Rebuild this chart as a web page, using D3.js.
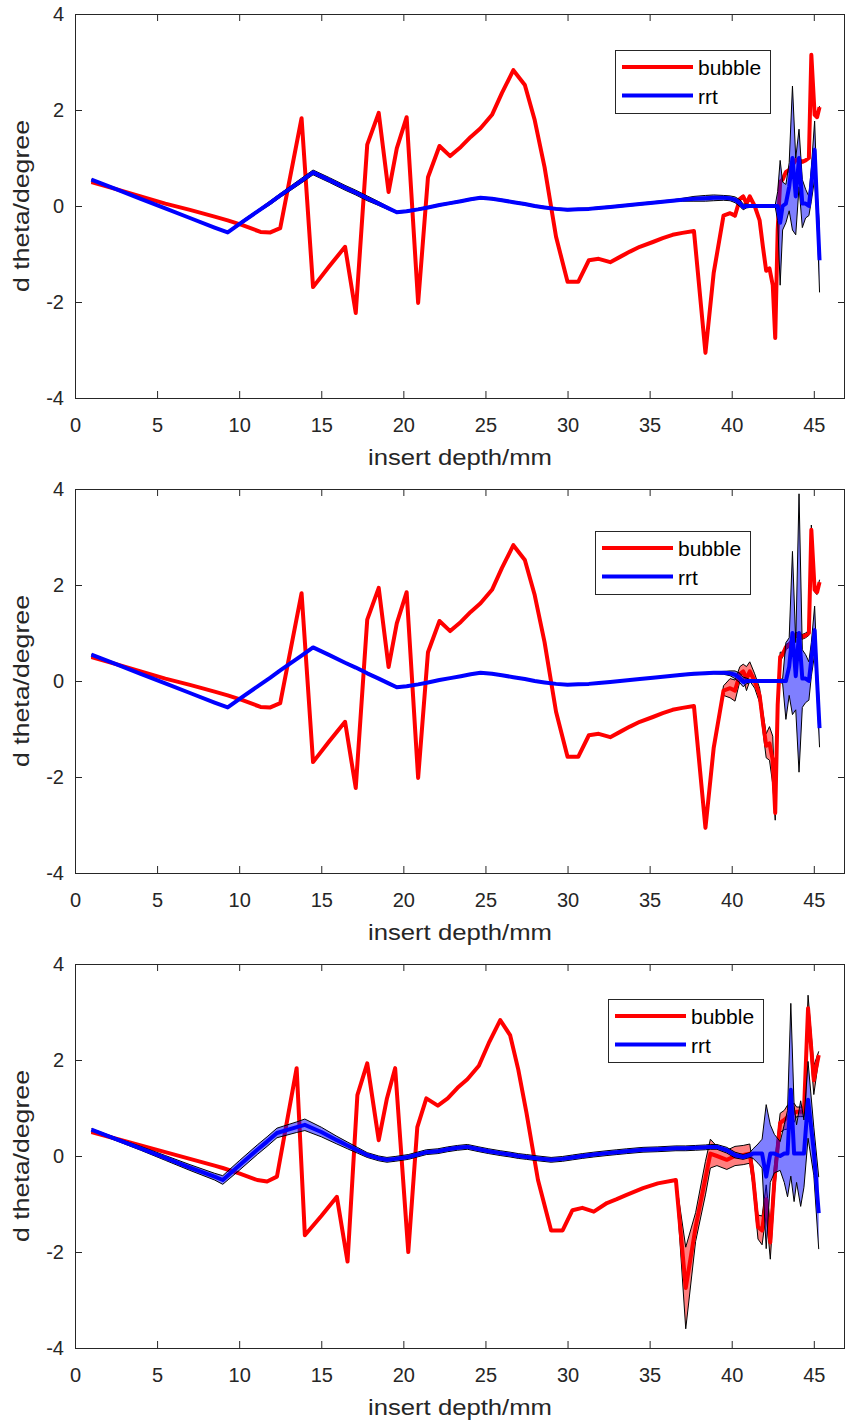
<!DOCTYPE html>
<html>
<head>
<meta charset="utf-8">
<script src="https://cdnjs.cloudflare.com/ajax/libs/d3/7.8.5/d3.min.js"></script>
<style>
body { margin: 0; background: #fff; }
svg { display: block; font-family: 'Liberation Sans', Arial, sans-serif; }
</style>
</head>
<body>
<svg width="846" height="1422"></svg>
<script>
'use strict';

// insert depth (mm), top and middle panels
var xA = [1.0, 2.5, 4.0, 5.5, 7.0, 8.5, 9.3, 10.2, 11.3, 11.9,
    12.5, 13.8, 14.5, 15.5, 16.45, 17.1, 17.8, 18.5, 19.1, 19.6,
    20.2, 20.9, 21.5, 22.2, 22.85, 23.5, 24.1, 24.7, 25.4, 26.0,
    26.7, 27.4, 28.0, 28.6, 29.3, 30.0, 30.65, 31.3, 31.9, 32.6,
    33.2, 33.8, 34.4, 35.2, 35.8, 36.4, 37.0, 37.7, 38.4, 38.9,
    39.5, 39.9, 40.2, 40.5, 40.7, 40.9, 41.1, 41.4, 41.7, 41.9,
    42.1, 42.3, 42.5, 42.65, 42.8, 42.95, 43.1, 43.3, 43.5, 43.7,
    43.9, 44.1, 44.3, 44.5, 44.7, 44.85, 45.05, 45.2, 45.35];

var redA = [0.5, 0.35, 0.2, 0.05, -0.08, -0.22, -0.3, -0.4, -0.54, -0.55,
    -0.46, 1.83, -1.69, -1.25, -0.85, -2.23, 1.28, 1.94, 0.29, 1.2,
    1.85, -2.02, 0.6, 1.25, 1.04, 1.23, 1.44, 1.62, 1.9, 2.35,
    2.83, 2.52, 1.79, 0.81, -0.64, -1.58, -1.58, -1.13, -1.1, -1.17,
    -1.06, -0.95, -0.85, -0.75, -0.67, -0.6, -0.56, -0.52, -3.06, -1.4,
    -0.2, -0.15, -0.2, 0.15, 0.2, 0.05, 0.2, 0.0, -0.3, -0.85,
    -1.35, -1.3, -1.65, -2.75, -0.5, 0.5, 0.55, 0.71, 0.75, 0.85,
    0.96, 0.95, 0.92, 0.95, 1.0, 3.15, 1.9, 1.85, 2.06];

var blueTop = [0.55, 0.35, 0.15, -0.05, -0.25, -0.45, -0.55, -0.33, -0.07, 0.07,
    0.22, 0.53, 0.7, 0.54, 0.38, 0.28, 0.16, 0.05, -0.05, -0.13,
    -0.11, -0.07, -0.03, 0.02, 0.06, 0.1, 0.14, 0.17, 0.15, 0.12,
    0.08, 0.04, 0.0, -0.03, -0.06, -0.08, -0.07, -0.06, -0.04, -0.02,
    0.0, 0.02, 0.04, 0.07, 0.09, 0.11, 0.13, 0.15, 0.16, 0.17,
    0.17, 0.16, 0.13, 0.06, -0.02, 0.0, 0.0, 0.0, 0.0, 0.0,
    0.0, 0.0, 0.0, 0.0, 0.0, -0.35, 0.0, 0.05, 0.4, 1.0,
    0.2, 1.0, 0.05, 0.05, 0.0, 0.45, 1.17, 0.0, -1.13];

var blueMid = [0.55, 0.35, 0.15, -0.05, -0.25, -0.45, -0.55, -0.33, -0.07, 0.07,
    0.22, 0.53, 0.7, 0.54, 0.38, 0.28, 0.16, 0.05, -0.05, -0.13,
    -0.11, -0.07, -0.03, 0.02, 0.06, 0.1, 0.14, 0.17, 0.15, 0.12,
    0.08, 0.04, 0.0, -0.03, -0.06, -0.08, -0.07, -0.06, -0.04, -0.02,
    0.0, 0.02, 0.04, 0.07, 0.09, 0.11, 0.13, 0.15, 0.16, 0.17,
    0.17, 0.16, 0.13, 0.06, -0.02, 0.0, 0.0, 0.0, 0.0, 0.0,
    0.0, 0.0, 0.0, 0.0, 0.0, 0.0, 0.0, 0.0, 0.3, 1.0,
    0.1, 1.0, 0.05, 0.05, 0.0, 0.45, 1.06, 0.0, -0.98];

// band half widths
var errRedTop = [0, 0, 0, 0, 0, 0, 0, 0, 0, 0,
    0, 0, 0, 0, 0, 0, 0, 0, 0, 0,
    0, 0, 0, 0, 0, 0, 0, 0, 0, 0,
    0, 0, 0, 0, 0, 0, 0, 0, 0, 0,
    0, 0, 0, 0, 0, 0, 0, 0, 0, 0,
    0.02, 0.02, 0.03, 0.03, 0.03, 0.03, 0.03, 0.02, 0.02, 0.02,
    0.02, 0.02, 0.02, 0.02, 0.02, 0.02, 0.02, 0.02, 0.02, 0.02,
    0.02, 0.02, 0.02, 0.02, 0.02, 0.02, 0.02, 0.02, 0.02];

var errBlueTop = [0.01, 0.01, 0.01, 0.01, 0.01, 0.01, 0.02, 0.03, 0.03, 0.04,
    0.04, 0.05, 0.05, 0.05, 0.05, 0.05, 0.05, 0.04, 0.03, 0.02,
    0.02, 0.02, 0.02, 0.02, 0.02, 0.02, 0.02, 0.02, 0.02, 0.02,
    0.02, 0.02, 0.02, 0.02, 0.02, 0.02, 0.02, 0.02, 0.02, 0.02,
    0.02, 0.02, 0.02, 0.02, 0.02, 0.02, 0.03, 0.05, 0.06, 0.06,
    0.05, 0.05, 0.06, 0.07, 0.06, 0.04, 0.03, 0.02, 0.02, 0.02,
    0.02, 0.02, 0.02, 0.02, 0.3, 1.3, 0.5, 0.4, 0.5, 1.5,
    0.8, 0.6, 0.5, 0.3, 0.2, 0.35, 0.6, 0.3, 0.67];

var errRedMid = [0.01, 0.01, 0.01, 0.01, 0.01, 0.01, 0.01, 0.01, 0.01, 0.01,
    0.01, 0.01, 0.01, 0.01, 0.01, 0.01, 0.01, 0.01, 0.01, 0.01,
    0.01, 0.01, 0.01, 0.01, 0.01, 0.01, 0.01, 0.01, 0.01, 0.01,
    0.01, 0.01, 0.01, 0.01, 0.01, 0.01, 0.01, 0.01, 0.01, 0.01,
    0.01, 0.01, 0.01, 0.01, 0.01, 0.01, 0.01, 0.01, 0.02, 0.03,
    0.1, 0.2, 0.22, 0.15, 0.15, 0.25, 0.2, 0.15, 0.15, 0.2,
    0.25, 0.35, 0.5, 0.15, 0.2, 0.1, 0.05, 0.05, 0.05, 0.05,
    0.05, 0.05, 0.05, 0.05, 0.05, 0.1, 0.05, 0.05, 0.05];

var errBlueMid = [0.01, 0.01, 0.01, 0.01, 0.01, 0.01, 0.01, 0.02, 0.02, 0.02,
    0.02, 0.02, 0.02, 0.02, 0.02, 0.02, 0.02, 0.02, 0.02, 0.02,
    0.01, 0.01, 0.01, 0.01, 0.01, 0.01, 0.01, 0.01, 0.01, 0.01,
    0.01, 0.01, 0.01, 0.01, 0.01, 0.01, 0.01, 0.01, 0.01, 0.01,
    0.01, 0.01, 0.01, 0.01, 0.01, 0.01, 0.02, 0.02, 0.02, 0.02,
    0.03, 0.05, 0.08, 0.1, 0.1, 0.06, 0.03, 0.02, 0.02, 0.02,
    0.02, 0.02, 0.02, 0.02, 0.02, 0.03, 0.05, 0.8, 0.6, 1.7,
    0.7, 2.9, 0.6, 0.5, 0.4, 0.35, 0.5, 0.3, 0.4];

// insert depth (mm), bottom panel
var xB = [1.0, 2.5, 4.0, 5.5, 7.0, 8.5, 9.0, 10.0, 11.1, 11.7,
    12.3, 13.5, 14.0, 15.0, 15.95, 16.6, 17.2, 17.8, 18.5, 19.0,
    19.5, 20.3, 20.85, 21.4, 22.1, 22.7, 23.3, 23.9, 24.6, 25.2,
    25.9, 26.5, 27.0, 27.5, 28.2, 29.0, 29.7, 30.3, 30.9, 31.6,
    32.4, 33.0, 33.6, 34.6, 35.5, 36.6, 37.2, 37.8, 38.4, 38.7,
    39.1, 39.7, 40.2, 40.7, 41.1, 41.3, 41.6, 41.85, 42.1, 42.35,
    42.6, 42.95, 43.2, 43.4, 43.6, 43.8, 43.95, 44.2, 44.4, 44.65,
    45.0, 45.3];

var redB = [0.5, 0.36, 0.22, 0.08, -0.06, -0.2, -0.25, -0.36, -0.5, -0.53,
    -0.43, 1.83, -1.65, -1.25, -0.85, -2.2, 1.27, 1.93, 0.33, 1.2,
    1.83, -2.0, 0.6, 1.2, 1.05, 1.2, 1.42, 1.6, 1.88, 2.35,
    2.83, 2.52, 1.8, 0.9, -0.5, -1.55, -1.55, -1.13, -1.08, -1.16,
    -0.98, -0.9, -0.81, -0.67, -0.57, -0.5, -2.75, -1.48, -0.46, 0.05,
    0.0, -0.08, 0.0, 0.02, 0.05, -0.43, -1.48, -1.55, -0.9, -1.8,
    -0.5, 0.69, 0.75, 0.81, 0.85, 0.9, 0.92, 0.92, 0.92, 3.08,
    1.58, 2.1];

var blueB = [0.55, 0.35, 0.16, -0.04, -0.24, -0.43, -0.5, -0.2, 0.13, 0.3,
    0.48, 0.6, 0.65, 0.5, 0.33, 0.22, 0.12, 0.02, -0.05, -0.08,
    -0.06, -0.02, 0.03, 0.08, 0.1, 0.14, 0.17, 0.19, 0.14, 0.1,
    0.06, 0.03, 0.0, -0.02, -0.05, -0.08, -0.06, -0.03, 0.0, 0.03,
    0.06, 0.08, 0.1, 0.13, 0.14, 0.16, 0.16, 0.17, 0.18, 0.19,
    0.19, 0.12, 0.02, -0.02, 0.02, 0.05, 0.05, 0.05, -0.43, 0.05,
    0.05, 0.0, 0.05, 0.05, 1.38, 0.05, 0.05, 0.05, 0.05, 1.17,
    0.1, -1.19];

var errRedBot = [0.01, 0.01, 0.01, 0.01, 0.01, 0.01, 0.01, 0.01, 0.01, 0.01,
    0.01, 0.01, 0.01, 0.01, 0.01, 0.01, 0.01, 0.01, 0.01, 0.01,
    0.01, 0.01, 0.01, 0.01, 0.01, 0.01, 0.01, 0.01, 0.01, 0.01,
    0.01, 0.01, 0.01, 0.01, 0.01, 0.01, 0.01, 0.01, 0.01, 0.01,
    0.01, 0.01, 0.01, 0.01, 0.01, 0.02, 0.85, 0.3, 0.35, 0.3,
    0.2, 0.2, 0.2, 0.2, 0.2, 0.2, 0.25, 0.3, 0.3, 0.35,
    0.3, 0.2, 0.2, 0.25, 0.2, 0.2, 0.1, 0.1, 0.1, 0.27,
    0.3, 0.08];

var errBlueBot = [0.02, 0.03, 0.04, 0.05, 0.06, 0.07, 0.09, 0.1, 0.1, 0.1,
    0.1, 0.11, 0.12, 0.1, 0.08, 0.07, 0.06, 0.05, 0.05, 0.05,
    0.05, 0.05, 0.05, 0.05, 0.05, 0.05, 0.05, 0.05, 0.05, 0.05,
    0.05, 0.05, 0.05, 0.05, 0.05, 0.05, 0.05, 0.05, 0.05, 0.05,
    0.05, 0.05, 0.05, 0.05, 0.05, 0.05, 0.05, 0.05, 0.05, 0.05,
    0.05, 0.06, 0.06, 0.05, 0.05, 0.1, 0.2, 0.3, 1.5, 0.6,
    0.4, 0.3, 0.6, 0.9, 1.8, 1.0, 0.6, 1.1, 0.7, 0.8,
    0.5, 0.75];

var xTicks = [0, 5, 10, 15, 20, 25, 30, 35, 40, 45];
var yTicks = [-4, -2, 0, 2, 4];
var legendNames = ['bubble', 'rrt'];
var xTitle = 'insert depth/mm';
var yTitle = 'd theta/degree';

var panels = [
    {top: 14, xs: xA, red: redA, blue: blueTop, eRed: errRedTop, eBlue: errBlueTop, lx: 615, ly: 50},
    {top: 489, xs: xA, red: redA, blue: blueMid, eRed: errRedMid, eBlue: errBlueMid, lx: 595, ly: 531},
    {top: 964, xs: xB, red: redB, blue: blueB, eRed: errRedBot, eBlue: errBlueBot, lx: 608, ly: 999}
];

var axisColor = '#262626';
var svg = d3.select('svg');

var x = d3.scaleLinear().domain([0, 46.9]).range([75, 845]);

// plain hyphen for negatives, like the original
function plain(d) {
    return String(d);
}

function drawSeries(g, y, xs, ys, err, color, opacity) {
    var pts = xs.map(function (d, i) {
        return {x: d, y: ys[i], e: err[i]};
    });
    var area = d3.area()
        .x(function (d) { return x(d.x); })
        .y0(function (d) { return y(d.y - d.e); })
        .y1(function (d) { return y(d.y + d.e); });
    var upper = d3.line()
        .x(function (d) { return x(d.x); })
        .y(function (d) { return y(d.y + d.e); });
    var lower = d3.line()
        .x(function (d) { return x(d.x); })
        .y(function (d) { return y(d.y - d.e); });
    var mean = d3.line()
        .x(function (d) { return x(d.x); })
        .y(function (d) { return y(d.y); });

    g.append('path').datum(pts)
        .attr('d', area)
        .attr('fill', color)
        .attr('fill-opacity', opacity);
    [upper, lower].forEach(function (l) {
        g.append('path').datum(pts)
            .attr('d', l)
            .attr('fill', 'none')
            .attr('stroke', '#000')
            .attr('stroke-width', 1);
    });
    g.append('path').datum(pts)
        .attr('d', mean)
        .attr('fill', 'none')
        .attr('stroke', color)
        .attr('stroke-width', 4)
        .attr('stroke-linejoin', 'round');
}

panels.forEach(function (p, k) {
    var bottom = p.top + 384;
    var y = d3.scaleLinear().domain([-4, 4]).range([bottom, p.top]);
    var g = svg.append('g');

    svg.append('clipPath').attr('id', 'clip' + k)
        .append('rect')
        .attr('x', x.range()[0]).attr('y', p.top)
        .attr('width', x.range()[1] - x.range()[0])
        .attr('height', bottom - p.top);

    var plot = g.append('g').attr('clip-path', 'url(#clip' + k + ')');
    drawSeries(plot, y, p.xs, p.red, p.eRed, '#ff0000', 0.5);
    drawSeries(plot, y, p.xs, p.blue, p.eBlue, '#0000ff', 0.5);

    // axes, ticks point inwards on all four sides
    var axB = g.append('g').attr('transform', 'translate(0,' + bottom + ')')
        .call(d3.axisBottom(x).tickValues(xTicks).tickFormat(plain)
            .tickSizeInner(-7).tickSizeOuter(0).tickPadding(20));
    var axT = g.append('g').attr('transform', 'translate(0,' + p.top + ')')
        .call(d3.axisTop(x).tickValues(xTicks).tickSizeInner(-7).tickSizeOuter(0).tickFormat(''));
    var axL = g.append('g').attr('transform', 'translate(' + x.range()[0] + ',0)')
        .call(d3.axisLeft(y).tickValues(yTicks).tickFormat(plain)
            .tickSizeInner(-7).tickSizeOuter(0).tickPadding(11));
    var axR = g.append('g').attr('transform', 'translate(' + x.range()[1] + ',0)')
        .call(d3.axisRight(y).tickValues(yTicks).tickSizeInner(-7).tickSizeOuter(0).tickFormat(''));

    [axB, axT, axL, axR].forEach(function (a) {
        a.select('.domain').remove();
        a.selectAll('line').attr('stroke', axisColor);
        a.selectAll('text')
            .attr('fill', axisColor)
            .style('font-family', "'Liberation Sans', Arial, sans-serif")
            .style('font-size', '20px');
    });

    g.append('rect')
        .attr('x', x.range()[0] + 0.5).attr('y', p.top + 0.5)
        .attr('width', x.range()[1] - x.range()[0] - 1)
        .attr('height', bottom - p.top)
        .attr('fill', 'none')
        .attr('stroke', axisColor)
        .attr('stroke-width', 1);

    g.append('text')
        .text(xTitle)
        .attr('x', 460)
        .attr('y', bottom + 67)
        .attr('text-anchor', 'middle')
        .attr('textLength', 184)
        .attr('lengthAdjust', 'spacingAndGlyphs')
        .attr('fill', axisColor)
        .style('font-size', '22px');

    g.append('text')
        .text(yTitle)
        .attr('transform', 'translate(29,' + (p.top + 192) + ') rotate(-90)')
        .attr('text-anchor', 'middle')
        .attr('textLength', 172)
        .attr('lengthAdjust', 'spacingAndGlyphs')
        .attr('fill', axisColor)
        .style('font-size', '22px');

    // legend
    var lg = g.append('g').attr('transform', 'translate(' + p.lx + ',' + p.ly + ')');
    lg.append('rect')
        .attr('x', 0.5).attr('y', 0.5)
        .attr('width', 155).attr('height', 63)
        .attr('fill', '#fff')
        .attr('stroke', axisColor)
        .attr('stroke-width', 1);
    ['#ff0000', '#0000ff'].forEach(function (c, i) {
        lg.append('line')
            .attr('x1', 7).attr('x2', 78)
            .attr('y1', 17 + i * 28.5).attr('y2', 17 + i * 28.5)
            .attr('stroke', c)
            .attr('stroke-width', 4);
        lg.append('text')
            .text(legendNames[i])
            .attr('x', 83)
            .attr('y', 25 + i * 29)
            .attr('fill', '#000')
            .style('font-size', '21px');
    });
});
</script>
</body>
</html>
